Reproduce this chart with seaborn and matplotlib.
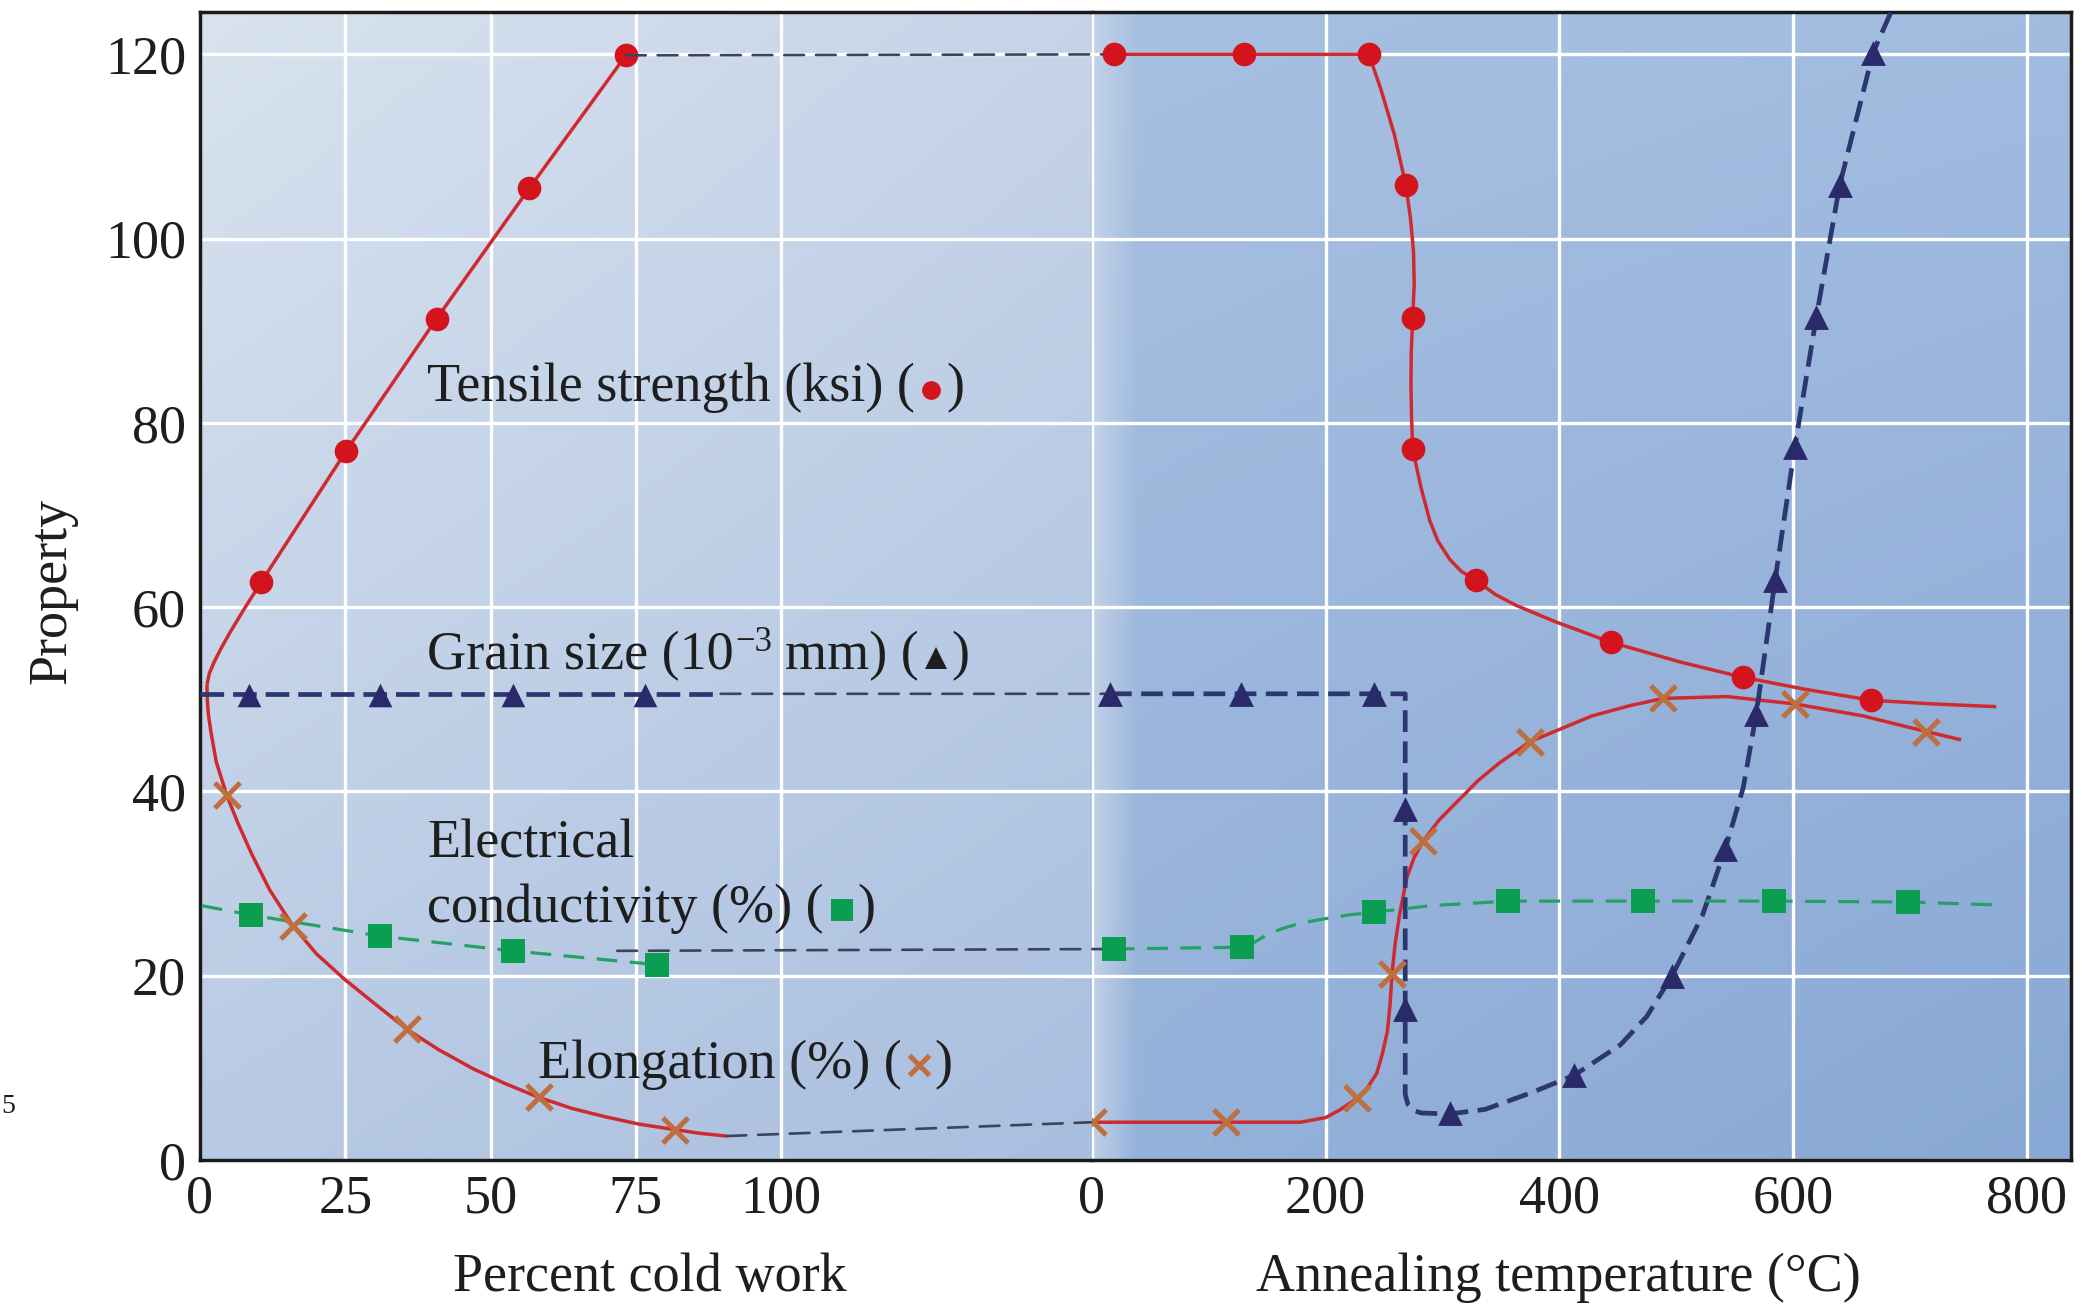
import numpy as np
import matplotlib
matplotlib.use("Agg")
import matplotlib.pyplot as plt
import matplotlib.colors as mcolors
from matplotlib.patches import ConnectionPatch
from matplotlib.lines import Line2D
import seaborn as sns

# ---------------- data ----------------
# Left panel: percent cold work
ts_cw_curve_x = [1.2, 1.6, 2.4, 3.6, 5.2, 7.5, 10.5, 25.1, 40.7, 56.7, 73.3]
ts_cw_curve_y = [51.6, 52.8, 54.0, 55.5, 57.3, 59.7, 62.7, 76.9, 91.3, 105.5, 119.9]
ts_cw_x = [10.5, 25.1, 40.7, 56.7, 73.3]
ts_cw_y = [62.7, 76.9, 91.3, 105.5, 119.9]

el_cw_curve_x = [1.2, 1.25, 1.45, 1.9, 2.8, 4.6, 6.5, 8.9, 12.0, 16.0, 20.0, 24.9, 30.0,
                 35.6, 41.0, 47.0, 52.5, 58.3, 64.0, 69.7, 75.5, 81.7, 86.0, 90.6]
el_cw_curve_y = [51.6, 50.0, 48.3, 46.4, 43.2, 39.6, 36.6, 33.2, 29.3, 25.4, 22.4, 19.6, 17.0,
                 14.2, 12.0, 9.9, 8.3, 6.8, 5.6, 4.7, 3.9, 3.3, 2.9, 2.6]
el_cw_x = [4.6, 16.0, 35.6, 58.3, 81.7]
el_cw_y = [39.6, 25.4, 14.2, 6.8, 3.3]

gs_cw_curve_x = [0.0, 8.35, 31.05, 53.8, 76.5, 89.6]
gs_cw_curve_y = [50.6, 50.6, 50.6, 50.6, 50.6, 50.6]
gs_cw_x = [8.35, 31.05, 53.8, 76.5]
gs_cw_y = [50.5, 50.5, 50.5, 50.5]

ec_cw_curve_x = [0.3, 8.7, 31.0, 53.8, 78.6]
ec_cw_curve_y = [27.6, 26.6, 24.3, 22.7, 21.2]
ec_cw_x = [8.7, 31.0, 53.8, 78.6]
ec_cw_y = [26.6, 24.3, 22.7, 21.2]
ec_cw_link = (71.8, 22.7)   # start of the dashed link to the annealing side

# Right panel: annealing temperature (C)
ts_an_curve_x = [18.7, 130.4, 237.0, 247.3, 258.6, 268.7, 272.6, 275.2, 275.8, 274.5,
                 273.3, 273.0, 273.5, 274.5, 277.8, 282.0, 289.1, 296.0, 306.2, 316.0,
                 329.0, 345.0, 363.0, 397.0, 444.0, 505.0, 557.0, 610.0, 667.0, 720.0, 774.0]
ts_an_curve_y = [120.0, 120.0, 120.0, 116.2, 111.4, 105.8, 102.2, 98.6, 95.0, 91.4,
                 87.8, 84.3, 80.7, 77.2, 75.2, 72.8, 69.4, 67.2, 65.2, 63.9,
                 62.9, 61.4, 60.2, 58.4, 56.2, 54.0, 52.4, 51.1, 49.9, 49.5, 49.2]
ts_an_x = [18.7, 130.4, 237.0, 268.7, 274.5, 274.5, 329.0, 444.0, 557.0, 667.0]
ts_an_y = [120.0, 120.0, 120.0, 105.8, 91.4, 77.2, 62.9, 56.2, 52.4, 49.9]

el_an_curve_x = [0.6, 114.3, 178.3, 200.0, 213.0, 226.9, 236.0, 243.7, 248.5, 252.9, 255.2,
                 256.8, 259.5, 263.5, 269.6, 275.7, 283.3, 297.1, 330.6, 348.8, 374.8,
                 428.0, 460.0, 489.0, 543.7, 601.6, 660.0, 714.1, 744.0]
el_an_curve_y = [4.1, 4.1, 4.1, 4.6, 5.5, 6.7, 7.9, 9.4, 11.5, 14.0, 17.0,
                 20.2, 23.5, 26.8, 30.7, 32.8, 34.6, 36.9, 41.2, 43.1, 45.4,
                 48.2, 49.3, 50.1, 50.3, 49.5, 48.2, 46.5, 45.6]
el_an_x = [0.6, 114.3, 226.9, 256.8, 283.3, 374.8, 489.0, 601.6, 714.1]
el_an_y = [4.1, 4.1, 6.7, 20.2, 34.6, 45.4, 50.1, 49.5, 46.5]

gs_an_curve_x = [15.4, 127.9, 241.0, 268.1, 268.1, 268.1, 268.1, 270.5, 275.0, 281.8, 306.2,
                 336.6, 376.0, 412.8, 452.3, 475.0, 496.5, 522.4, 542.2, 557.4, 568.6,
                 584.8, 601.6, 620.0, 640.0, 668.6, 684.3]
gs_an_curve_y = [50.6, 50.6, 50.6, 50.6, 38.1, 16.4, 7.1, 6.0, 5.4, 5.1, 5.0,
                 5.5, 7.3, 9.2, 12.5, 15.6, 20.0, 26.5, 33.8, 40.4, 48.4,
                 63.0, 77.4, 91.5, 105.8, 120.2, 124.7]
gs_an_x = [15.4, 127.9, 241.0, 268.1, 268.1, 306.2, 412.8, 496.5, 542.2, 568.6,
           584.8, 601.6, 620.0, 640.0, 668.6]
gs_an_y = [50.6, 50.6, 50.6, 38.1, 16.4, 5.1, 9.2, 20.0, 33.8, 48.4,
           63.0, 77.4, 91.5, 105.8, 120.2]

ec_an_curve_x = [18.7, 128.8, 140.0, 151.4, 165.0, 178.3, 200.0, 220.0, 241.7, 290.0,
                 356.3, 472.0, 584.0, 698.5, 771.0]
ec_an_curve_y = [22.9, 23.1, 23.7, 24.6, 25.2, 25.7, 26.2, 26.6, 26.9, 27.6,
                 28.1, 28.1, 28.1, 28.0, 27.7]
ec_an_x = [18.7, 128.8, 241.7, 356.3, 472.0, 584.0, 698.5]
ec_an_y = [22.9, 23.1, 26.9, 28.1, 28.1, 28.1, 28.0]

cw_ticks = [0, 25, 50, 75, 100]
an_ticks = [0, 200, 400, 600, 800]
y_ticks = [0, 20, 40, 60, 80, 100, 120]
cw_lim = (0, 153.5)
an_lim = (0, 838)
y_lim = (0, 124.6)

# ---------------- styling ----------------
W, H = 2088, 1304
sns.set_theme(style="white")
FAM = ["Liberation Serif", "DejaVu Sans"]
plt.rcParams["font.family"] = FAM
plt.rcParams["mathtext.fontset"] = "stix"

RED = "#cf2a2f"
RED_M = "#d3141d"
NAVY = "#2c3670"
NAVY_M = "#2a2a6a"
GREEN = "#25a162"
GREEN_M = "#0c9e50"
ORANGE = "#bf6e3e"
LINK = "#3b4458"
TXT = "#1e1e1e"
FS = 39

fig = plt.figure(figsize=(W / 100, H / 100), dpi=100)
fig.patch.set_facecolor("white")
ax1 = fig.add_axes([200 / W, (H - 1160) / H, 892 / W, 1148 / H])
ax2 = fig.add_axes([1092 / W, (H - 1160) / H, 979 / W, 1148 / H], sharey=ax1)


def gradient(ax, tl, tr, bl, br, xlim, ylim, strip=None, n=240):
    c = lambda h: np.array(mcolors.to_rgb(h))
    u = np.linspace(0, 1, n)[None, :, None]
    v = np.linspace(0, 1, n)[:, None, None]
    top = c(tl) * (1 - u) + c(tr) * u
    bot = c(bl) * (1 - u) + c(br) * u
    img = top * (1 - v) + bot * v
    if strip is not None:
        col, frac, amt = strip
        s = np.clip(1 - u / frac, 0, 1) * amt
        img = img * (1 - s) + c(col) * s
    ax.imshow(img, extent=[xlim[0], xlim[1], ylim[0], ylim[1]], origin="upper",
              aspect="auto", zorder=-2, interpolation="bilinear")


gradient(ax1, "#d9e3ef", "#c6d4e8", "#b8cae4", "#a9bfe0", cw_lim, y_lim)
gradient(ax2, "#a8c0e1", "#a2bce0", "#95b2da", "#88a8d5", an_lim, y_lim,
         strip=("#c9d7ea", 0.045, 0.8))

for ax, lim, ticks in ((ax1, cw_lim, cw_ticks), (ax2, an_lim, an_ticks)):
    ax.set_xlim(*lim)
    ax.set_ylim(*y_lim)
    ax.set_xticks(ticks)
    ax.set_yticks(y_ticks)
    ax.set_axisbelow(True)
    ax.grid(True, color="white", lw=2.4)
    ax.tick_params(axis="both", direction="in", length=24, width=2.2, color="#1a1a1a",
                   labelsize=FS, labelcolor=TXT, pad=10)
    for sp in ax.spines.values():
        sp.set_color("#1a1a1a")
        sp.set_linewidth(2.5)

ax1.spines["right"].set_visible(False)
ax2.spines["left"].set_visible(False)
ax2.tick_params(axis="y", left=False, labelleft=False)


def line(ax, xs, ys, color, lw, dashes=None):
    sns.lineplot(x=xs, y=ys, ax=ax, sort=False, estimator=None, color=color,
                 lw=lw, zorder=3, legend=False)
    ln = ax.lines[-1]
    ln.set_solid_capstyle("butt")
    ln.set_solid_joinstyle("round")
    if dashes is not None:
        ln.set_dashes(dashes)


def marks(ax, xs, ys, marker, color, s, lw=0):
    sns.scatterplot(x=xs, y=ys, ax=ax, marker=marker, s=s, color=color,
                    edgecolor=color if marker != "x" else None, linewidth=lw,
                    zorder=4, legend=False)


NAVY_D = (5.0, 1.9)
GREEN_D = (6.5, 3.9)
LINK_D = (7.5, 4.5)

# left panel
line(ax1, ts_cw_curve_x, ts_cw_curve_y, RED, 2.5)
line(ax1, el_cw_curve_x, el_cw_curve_y, RED, 2.5)
line(ax1, gs_cw_curve_x, gs_cw_curve_y, NAVY, 3.4, NAVY_D)
line(ax1, ec_cw_curve_x, ec_cw_curve_y, GREEN, 2.3, GREEN_D)
marks(ax1, ts_cw_x, ts_cw_y, "o", RED_M, 290)
marks(ax1, gs_cw_x, gs_cw_y, "^", NAVY_M, 290)
marks(ax1, ec_cw_x, ec_cw_y, "s", GREEN_M, 300)
marks(ax1, el_cw_x, el_cw_y, "x", ORANGE, 330, lw=3.6)

# right panel
line(ax2, ts_an_curve_x, ts_an_curve_y, RED, 2.5)
line(ax2, el_an_curve_x, el_an_curve_y, RED, 2.5)
line(ax2, gs_an_curve_x, gs_an_curve_y, NAVY, 3.4, (4.6, 2.0))
line(ax2, ec_an_curve_x, ec_an_curve_y, GREEN, 2.3, GREEN_D)
marks(ax2, ts_an_x, ts_an_y, "o", RED_M, 290)
marks(ax2, gs_an_x, gs_an_y, "^", NAVY_M, 320)
marks(ax2, ec_an_x, ec_an_y, "s", GREEN_M, 300)
marks(ax2, el_an_x, el_an_y, "x", ORANGE, 330, lw=3.6)


# dashed links between the two panels
def link(pa, pb, lw=1.9):
    con = ConnectionPatch(xyA=pa, coordsA=ax1.transData, xyB=pb, coordsB=ax2.transData,
                          color=LINK, lw=lw, linestyle=(0, LINK_D), zorder=2.5)
    con.set_clip_on(False)
    ax2.add_artist(con)


link((ts_cw_x[-1], ts_cw_y[-1]), (ts_an_x[0], ts_an_y[0]))
link((gs_cw_curve_x[-1], gs_cw_curve_y[-1]), (gs_an_curve_x[0], gs_an_curve_y[0]))
link(ec_cw_link, (ec_an_x[0], ec_an_y[0]))
link((el_cw_curve_x[-1], el_cw_curve_y[-1]), (el_an_x[0], el_an_y[0]))

# axis labels
ax1.set_ylabel("Property", fontsize=FS, color=TXT)
ax1.yaxis.set_label_coords(-0.137, 0.496)
ax1.set_xlabel("Percent cold work", fontsize=FS, color=TXT)
ax1.xaxis.set_label_coords(0.5045, -0.1141)
ax1.xaxis.label.set_va("baseline")
ax2.set_xlabel("Annealing temperature (°C)", fontsize=FS, color=TXT)
ax2.xaxis.set_label_coords(0.476, -0.1141)
ax2.xaxis.label.set_va("baseline")

# annotations with coloured symbols (positions in figure pixels, y from top)
renderer = fig.canvas.get_renderer()


def rich(x, y, pieces):
    for p in pieces:
        kind = p[0]
        if kind == "t":
            _, s, size, dy, gap = (list(p) + [FS, 0, 2])[:5] if len(p) < 5 else p
            t = fig.text(x / W, 1 - (y - dy) / H, s, color=TXT, fontsize=size,
                         ha="left", va="baseline", family=FAM)
            bb = t.get_window_extent(renderer=renderer)
            x += bb.width + gap
        else:
            _, mk, col, ms, wpx, up, mew = p
            x += 5
            m = Line2D([(x + wpx / 2) / W], [1 - (y - up) / H], transform=fig.transFigure,
                       marker=mk, ms=ms, color=col, mec=col, mew=mew, ls="none")
            fig.add_artist(m)
            x += wpx + 5


rich(427, 401, [("t", "Tensile strength (ksi) ("), ("m", "o", RED_M, 13.5, 19, 11, 0),
                ("t", ")")])
rich(427, 669, [("t", "Grain size (10", FS, 0, 2), ("t", "−3", 25, 18, 12),
                ("t", "mm) ("), ("m", "^", TXT, 15.5, 21, 11.5, 0), ("t", ")")])
rich(427, 858, [("t", "Electrical")])
rich(427, 922, [("t", "conductivity (%) ("), ("m", "s", GREEN_M, 15.5, 22, 12.5, 0),
                ("t", ")")])
rich(538, 1078, [("t", "Elongation (%) ("), ("m", "x", ORANGE, 14, 21, 13, 3.6),
                 ("t", ")")])

# small glyph at the far left edge of the original figure
fig.text(1 / W, 1 - 1113 / H, "5", ha="left", va="baseline", fontsize=20, color=TXT)

fig.savefig("out.png", dpi=100, facecolor="white")
